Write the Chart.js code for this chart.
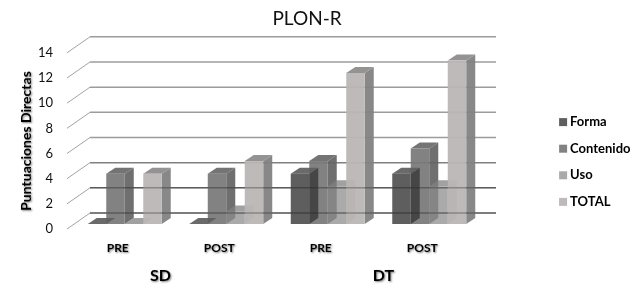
<!DOCTYPE html>
<html>
<head>
<meta charset="utf-8">
<title>PLON-R</title>
<script src="https://cdn.jsdelivr.net/npm/chart.js@4"></script>
<style>
  html, body { margin: 0; padding: 0; background: #fff; }
  canvas { display: block; }
</style>
</head>
<body>
<canvas id="chart" width="642" height="301"></canvas>
<script>
// Chart data
const categories = ["PRE", "POST", "PRE", "POST"];
const groups = ["SD", "DT"];
const forma = [0, 0, 4, 4];
const contenido = [4, 4, 5, 6];
const uso = [0, 1, 3, 3];
const total = [4, 5, 12, 13];
const yTitle = "Puntuaciones Directas";

const FONT = "Lato, 'Open Sans', sans-serif";
const DEPTH_X = 9, DEPTH_Y = -6;
const WALL_X = 23, WALL_Y = -16;

// front / top / side shades for each series
const shades = [
  { front: "rgba(82,82,82,0.93)", top: "rgba(95,95,95,0.93)", side: "rgba(66,66,66,0.93)" },
  { front: "rgba(120,120,120,0.93)", top: "rgba(105,105,105,0.93)", side: "rgba(100,100,100,0.93)" },
  { front: "rgba(142,142,142,0.75)", top: "rgba(130,130,130,0.75)", side: "rgba(130,130,130,0.75)" },
  { front: "rgba(186,182,182,0.95)", top: "rgba(142,140,140,0.95)", side: "rgba(130,130,130,0.95)" },
];

const makeSet = (label, data, i) => ({
  label,
  data,
  backgroundColor: shades[i].front,
  borderWidth: 0,
  barPercentage: 1,
  categoryPercentage: 0.729,
});

function poly(ctx, color, pts) {
  ctx.fillStyle = color;
  ctx.beginPath();
  pts.forEach((p, i) => (i ? ctx.lineTo(p[0], p[1]) : ctx.moveTo(p[0], p[1])));
  ctx.closePath();
  ctx.fill();
}

function softShadow(ctx) {
  ctx.shadowColor = "rgba(0,0,0,0.5)";
  ctx.shadowBlur = 2;
  ctx.shadowOffsetX = 1;
  ctx.shadowOffsetY = 1;
}

// the bold labels in the reference have a blurred shadow
function withShadow(obj, method, ctx) {
  if (obj["_" + method]) return;
  const orig = obj[method];
  obj["_" + method] = orig;
  obj[method] = function (...args) {
    ctx.save();
    softShadow(ctx);
    orig.apply(this, args);
    ctx.restore();
  };
}

const wall3d = {
  id: "wall3d",
  // the legend and title do not sit where chart.js puts them
  afterLayout(chart) {
    const legend = chart.legend;
    legend.left = 549;
    legend.right = 642;
    legend.top = 102;
    legend.bottom = 260;
    chart.titleBlock.left = 0;
    chart.titleBlock.right = 614;
    withShadow(legend, "draw", chart.ctx);
    withShadow(chart.scales.x, "drawLabels", chart.ctx);
  },
  beforeDatasetsDraw(chart) {
    const { ctx, scales, chartArea } = chart;
    const y = scales.y;
    const x0 = chartArea.left - 7;

    ctx.save();
    y.ticks.forEach((t) => {
      const py = y.getPixelForValue(t.value) + 5;
      ctx.strokeStyle = "#a2a2a2";
      ctx.lineWidth = 1;
      ctx.beginPath();
      ctx.moveTo(x0, py);
      ctx.lineTo(x0 + WALL_X, py + WALL_Y);
      ctx.stroke();
      ctx.strokeStyle = t.value <= 2 ? "#777" : t.value === 4 ? "#808080" : "#9c9c9c";
      ctx.lineWidth = 1.5;
      ctx.beginPath();
      ctx.moveTo(x0 + WALL_X, py + WALL_Y);
      ctx.lineTo(496, py + WALL_Y);
      ctx.stroke();
    });

    // excel paints Contenido under Forma, then Uso and TOTAL
    [1, 0, 2, 3].forEach((i) => {
      const meta = chart.getDatasetMeta(i);
      meta.data.forEach((bar) => {
        const l = bar.x - bar.width / 2, r = bar.x + bar.width / 2;
        poly(ctx, shades[i].side, [[r, bar.y], [r + DEPTH_X, bar.y + DEPTH_Y], [r + DEPTH_X, bar.base + DEPTH_Y], [r, bar.base]]);
        poly(ctx, shades[i].top, [[l, bar.y], [l + DEPTH_X, bar.y + DEPTH_Y], [r + DEPTH_X, bar.y + DEPTH_Y], [r, bar.y]]);
      });
      meta.controller.draw();
    });

    // the two lowest grid lines show through the bars
    ctx.strokeStyle = "rgba(30,30,30,0.3)";
    ctx.lineWidth = 1.5;
    [0, 2].forEach((v) => {
      const py = y.getPixelForValue(v) + 5 + WALL_Y;
      ctx.beginPath();
      ctx.moveTo(x0 + WALL_X, py);
      ctx.lineTo(496, py);
      ctx.stroke();
    });
    ctx.restore();
    return false;
  },
  afterDraw(chart) {
    const { ctx, scales } = chart;
    const x = scales.x;
    ctx.save();
    softShadow(ctx);
    ctx.fillStyle = "#000";
    ctx.textAlign = "center";
    ctx.textBaseline = "middle";
    ctx.font = "bold 16px " + FONT;
    ctx.fillText(groups[0], x.getPixelForValue(0.5) - 15, 276);
    ctx.fillText(groups[1], x.getPixelForValue(2.5) + 5, 276);
    ctx.translate(26, 141);
    ctx.rotate(-Math.PI / 2);
    ctx.font = "bold 14px " + FONT;
    ctx.fillText(yTitle, 0, 0);
    ctx.restore();
  },
};

new Chart(document.getElementById("chart"), {
  type: "bar",
  data: {
    labels: categories,
    datasets: [
      makeSet("Forma", forma, 0),
      makeSet("Contenido", contenido, 1),
      makeSet("Uso", uso, 2),
      makeSet("TOTAL", total, 3),
    ],
  },
  plugins: [wall3d],
  options: {
    responsive: false,
    animation: false,
    layout: { padding: { right: 162 } },
    scales: {
      x: {
        grid: { display: false },
        border: { display: false },
        ticks: {
          padding: 9,
          labelOffset: -7,
          maxRotation: 0,
          color: "#000",
          font: { family: FONT, size: 12, weight: "bold" },
        },
        afterFit: (scale) => { scale.height = 77; },
      },
      y: {
        min: 0,
        max: 14,
        grid: { display: false },
        border: { display: false },
        ticks: {
          stepSize: 2,
          padding: 13,
          labelOffset: 5,
          color: "#111",
          font: { family: FONT, size: 13 },
        },
        afterFit: (scale) => { scale.width = 74; },
      },
    },
    plugins: {
      title: {
        display: true,
        text: "PLON-R",
        color: "#111",
        padding: { top: 7, bottom: 18 },
        font: { family: FONT, size: 19, weight: "normal" },
      },
      legend: {
        position: "chartArea",
        align: "start",
        labels: {
          usePointStyle: true,
          pointStyle: "rect",
          boxWidth: 1,
          boxHeight: 8,
          padding: 13.6,
          color: "#000",
          font: { family: FONT, size: 13, weight: "bold" },
        },
      },
      tooltip: { enabled: false },
    },
  },
});
</script>
</body>
</html>
